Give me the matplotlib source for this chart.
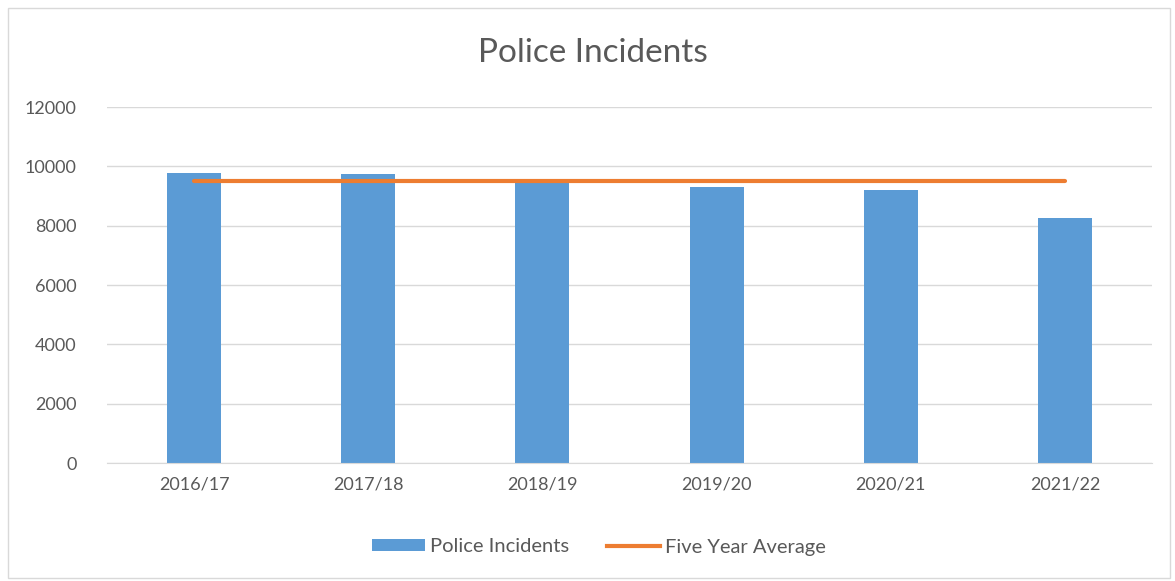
import matplotlib
matplotlib.use("Agg")
import matplotlib.pyplot as plt
from matplotlib.patches import Rectangle
from matplotlib.lines import Line2D
from matplotlib.patches import Patch

categories = ["2016/17", "2017/18", "2018/19", "2019/20", "2020/21", "2021/22"]
incidents = [9790, 9730, 9530, 9300, 9200, 8270]
five_year_avg = [9500, 9500, 9500, 9500, 9500, 9500]
yticks = [0, 2000, 4000, 6000, 8000, 10000, 12000]

BAR = "#5B9BD5"
LINE = "#ED7D31"
TXT = "#595959"
GRID = "#D9D9D9"

plt.rcParams['font.family'] = ['Lato', 'DejaVu Sans']

fig = plt.figure(figsize=(11.75, 5.81), dpi=100)
fig.patches.append(Rectangle((8/1175, 3/581), 1162/1175, 570/581, transform=fig.transFigure,
                             fill=False, edgecolor="#D9D9D9", linewidth=1))
ax = fig.add_axes([107/1175, 1 - 463/581, (1152 - 107)/1175, (463 - 107)/581])

x = list(range(len(categories)))
ax.bar(x, incidents, width=0.31, color=BAR, zorder=2)
ax.plot(x, five_year_avg, color=LINE, linewidth=3, zorder=3, solid_capstyle='round')

ax.set_xlim(-0.5, len(categories) - 0.5)
ax.set_ylim(0, 12000)
ax.set_yticks(yticks)
ax.set_yticklabels([str(v) for v in yticks])
ax.set_xticks(x)
ax.set_xticklabels(categories)
ax.grid(axis='y', color=GRID, linewidth=1, zorder=0)
ax.set_axisbelow(True)
for s in ["top", "right", "left"]:
    ax.spines[s].set_visible(False)
ax.spines["bottom"].set_color(GRID)
ax.tick_params(axis='both', length=0, labelsize=13, labelcolor=TXT)
ax.tick_params(axis='y', pad=22)
ax.tick_params(axis='x', pad=10)

fig.text(593/1175, 1 - 53/581, "Police Incidents", ha='center', va='center', fontsize=24, color=TXT)

handles = [Patch(facecolor=BAR, edgecolor='none', label="Police Incidents"),
           Line2D([0], [0], color=LINE, linewidth=3, label="Five Year Average")]
fig.legend(handles=handles, loc='center', bbox_to_anchor=(599/1175, 1 - 547/581), ncol=2,
           frameon=False, fontsize=14.5, labelcolor=TXT, handlelength=2.6, handleheight=0.55,
           handletextpad=0.25, columnspacing=1.9)

fig.savefig("out.png", dpi=100, facecolor="white")
